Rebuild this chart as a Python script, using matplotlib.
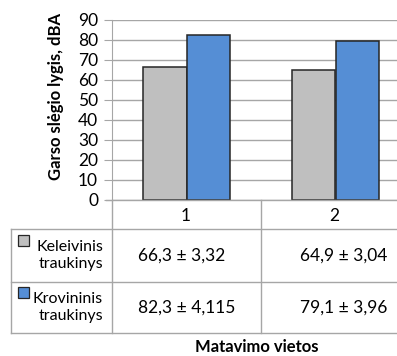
import matplotlib as mpl
import matplotlib.pyplot as plt
from matplotlib.lines import Line2D
from matplotlib.patches import Rectangle

mpl.use('Agg')

plt.rcParams['font.family'] = ['Lato', 'DejaVu Sans']

categories = ["1", "2"]
series_names = ["Keleivinis\ntraukinys", "Krovininis\ntraukinys"]
keleivinis = [66.3, 64.9]
krovininis = [82.3, 79.1]
keleivinis_txt = ["66,3 ± 3,32", "64,9 ± 3,04"]
krovininis_txt = ["82,3 ± 4,115", "79,1 ± 3,96"]
colors = ["#BFBFBF", "#558ED5"]
yticks = list(range(0, 100, 10))

W, H = 397, 356
grid_col = "#A6A6A6"


def px(x, y):
    return x / W, 1 - y / H


fig = plt.figure(figsize=(W / 100, H / 100), dpi=100)

# plot area (runs past right edge, as in the reference)
left, right, top, bottom = 112, 410, 19.5, 200
ax = fig.add_axes([left / W, 1 - bottom / H, (right - left) / W, (bottom - top) / H])
ax.set_xlim(-0.5, 1.5)
ax.set_ylim(0, 90)

w = 0.29
xs = range(len(categories))
ax.bar([x - w / 2 for x in xs], keleivinis, w, color=colors[0],
       edgecolor="#262626", linewidth=1.1, zorder=3)
ax.bar([x + w / 2 for x in xs], krovininis, w, color=colors[1],
       edgecolor="#262626", linewidth=1.1, zorder=3)

ax.set_yticks(yticks)
ax.set_yticklabels([str(t) for t in yticks], fontsize=12.5)
ax.tick_params(axis='y', length=6, color=grid_col, pad=4)
ax.set_xticks([])
ax.grid(axis='y', color=grid_col, linewidth=1, zorder=0)
for s in ["top", "right", "bottom"]:
    ax.spines[s].set_visible(False)
ax.spines["left"].set_color(grid_col)

fig.text(*px(56, 97), "Garso slėgio lygis, dBA", rotation=90, fontsize=12,
         fontweight='bold', ha='center', va='center')

# data table
col_div = 261
rows_y = [200, 229, 282, 333]
lines = [
    ((left - 6, W), (200, 200)),
    ((11, W), (229, 229)),
    ((11, W), (282, 282)),
    ((11, W), (333, 333)),
    ((left, left), (200, 333)),
    ((col_div, col_div), (200, 333)),
    ((11, 11), (229, 333)),
]
for (x0, x1), (y0, y1) in lines:
    fig.add_artist(Line2D([x0 / W, x1 / W], [1 - y0 / H, 1 - y1 / H],
                          color=grid_col, linewidth=1))

for c, cx in zip(categories, [186, 334]):
    fig.text(*px(cx, 216), c, fontsize=12.5, ha='center', va='center')

for i, (name, col) in enumerate(zip(series_names, colors)):
    yc = (rows_y[i + 1] + rows_y[i + 2]) / 2
    fig.add_artist(Rectangle(px(18, yc - 9.5), 11 / W, 11 / H, facecolor=col,
                             edgecolor="#262626", linewidth=0.9,
                             transform=fig.transFigure))
    fig.text(*px(103, yc), name, fontsize=11.5, ha='right', va='center',
             linespacing=1.3)

for txt, yc in zip([keleivinis_txt, krovininis_txt], [255.5, 307.5]):
    fig.text(*px(138, yc), txt[0], fontsize=12.5, ha='left', va='center')
    fig.text(*px(387, yc), txt[1], fontsize=12.5, ha='right', va='center')

fig.text(*px(257, 347), "Matavimo vietos", fontsize=12, fontweight='bold',
         ha='center', va='center')

plt.savefig("out.png", dpi=100)
plt.close()
